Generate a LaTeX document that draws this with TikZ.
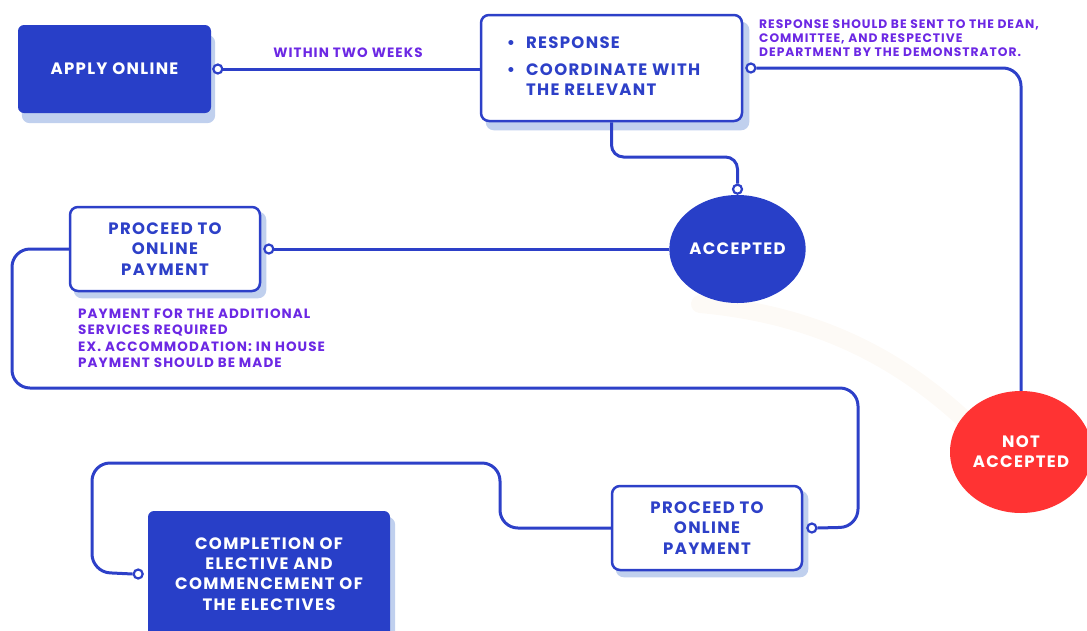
\documentclass[tikz,border=0pt]{standalone}
\usepackage{fontspec}
\setmainfont{Poppins}[LetterSpace=8]
\usetikzlibrary{shapes.geometric,backgrounds}

\definecolor{flowcolor0000}{RGB}{40,63,200}
\definecolor{flowcolor0001}{RGB}{45,64,200}
\definecolor{flowcolor0002}{RGB}{192,208,238}
\definecolor{flowcolor0003}{RGB}{108,40,228}
\definecolor{flowcolor0004}{RGB}{255,51,51}
\definecolor{flowcolor0005}{RGB}{253,250,246}

\begin{document}
\begin{tikzpicture}[yscale=-1
                ,fstyle1/.style={fill=flowcolor0000,rounded corners=6pt,text=white,font=\bfseries\fontsize{16.5}{20.3}\selectfont,align=center,inner sep=0pt}
                ,fstyle2/.style={draw=flowcolor0001,fill=white,line width=2.5pt,rounded corners=8pt,text=flowcolor0001,font=\bfseries\fontsize{16.5}{20.5}\selectfont,align=center,inner sep=0pt}
                ,fstyle3/.style={fill=flowcolor0002,rounded corners=8pt}
                ,fstyle4/.style={color=flowcolor0001,line width=3pt,rounded corners=18pt}
                ,fstyle5/.style={circle,draw=flowcolor0001,fill=white,line width=2.2pt,minimum size=9pt,inner sep=0pt}
                ,fstyle6/.style={ellipse,inner sep=0pt,text=white,font=\bfseries\fontsize{16.5}{20}\selectfont,align=center}
                ,fstyle7/.style={text=flowcolor0003,font=\bfseries\fontsize{13.5}{16.5}\selectfont,align=left,inner sep=0pt}
            ]
            \useasboundingbox (0pt,0pt) rectangle (1087pt,630pt);
            % boxes
            \node[fstyle1,minimum width=193pt,minimum height=88pt] (apply) at (114.5pt,69pt) {APPLY ONLINE};
            \node[fstyle2,minimum width=261pt,minimum height=106pt] (response) at (611.5pt,68pt)
                {\begin{tabular}{@{}l@{\hspace{11pt}}l@{\hspace{16pt}}}\textbullet&RESPONSE\\[6pt]\textbullet&COORDINATE WITH\\&THE RELEVANT\end{tabular}};
            \node[fstyle2,minimum width=190pt,minimum height=84pt] (pay1) at (165pt,249pt) {PROCEED TO\\ONLINE\\PAYMENT};
            \node[fstyle2,minimum width=190pt,minimum height=84pt] (pay2) at (707pt,528pt) {PROCEED TO\\ONLINE\\PAYMENT};
            \node[fstyle1,minimum width=242pt,minimum height=126pt] (finish) at (269pt,574pt) {COMPLETION OF\\ELECTIVE AND\\COMMENCEMENT OF\\THE ELECTIVES};
            \node[fstyle6,fill=flowcolor0000,minimum width=129pt,minimum height=108pt] (accepted) at (737.5pt,249pt) {ACCEPTED};
            \node[fstyle6,fill=flowcolor0004,minimum width=142pt,minimum height=122pt] (rejected) at (1021pt,452pt) {NOT\\ACCEPTED};
            % shadows
            \begin{scope}[on background layer]
            \draw[color=flowcolor0005,line width=18pt,line cap=round] (700pt,304pt) .. controls (820pt,315pt) and (900pt,360pt) .. (965pt,420pt);
            \fill[fstyle3] ([shift={(4pt,10pt)}]apply.north west) rectangle ([shift={(4pt,10pt)}]apply.south east);
            \fill[fstyle3] ([shift={(6pt,8pt)}]response.north west) rectangle ([shift={(6pt,8pt)}]response.south east);
            \fill[fstyle3] ([shift={(5pt,6pt)}]pay1.north west) rectangle ([shift={(5pt,6pt)}]pay1.south east);
            \fill[fstyle3] ([shift={(5pt,6pt)}]pay2.north west) rectangle ([shift={(5pt,6pt)}]pay2.south east);
            \fill[fstyle3] ([shift={(5pt,6pt)}]finish.north west) rectangle ([shift={(5pt,6pt)}]finish.south east);
            \end{scope}
            % end dots
            \node[fstyle5,anchor=west] (applydot) at ([xshift=1pt]apply.east) {};
            \node[fstyle5,anchor=west] (responsedot) at ([xshift=2pt]response.east) {};
            \node[fstyle5,anchor=south] (accepteddot) at (accepted.north) {};
            \node[fstyle5,anchor=west] (pay1dot) at ([xshift=2pt]pay1.east) {};
            \node[fstyle5,anchor=west] (pay2dot) at ([xshift=3pt]pay2.east) {};
            \node[fstyle5,anchor=east] (finishdot) at ([xshift=-4pt]finish.west) {};
            % connectors
            \draw[fstyle4] (applydot.east) -- (applydot.east -| response.west);
            \draw[fstyle4] (responsedot.east) -| (rejected.north);
            \draw[fstyle4,rounded corners=12pt] (response.south) |- (737.5pt,157pt) -- (accepteddot.north);
            \draw[fstyle4] (accepted.west) -- (pay1dot.east);
            \draw[fstyle4] (pay1.west) -| (12pt,388pt) -| (858pt,527pt) -- (pay2dot.east);
            \draw[fstyle4] (pay2.west) -| (500pt,463pt) -| (92pt,572pt) -- (finishdot.west);
            % notes
            \node[fstyle7] (within) at (348pt,53pt) {WITHIN TWO WEEKS};
            \node[fstyle7,anchor=west,font=\bfseries\fontsize{12.3}{14}\selectfont] (sendnote) at (759pt,38pt) {RESPONSE SHOULD BE SENT TO THE DEAN,\\COMMITTEE, AND RESPECTIVE\\DEPARTMENT BY THE DEMONSTRATOR.};
            \node[fstyle7,anchor=west] (paynote) at (78pt,338pt) {PAYMENT FOR THE ADDITIONAL\\SERVICES REQUIRED\\EX. ACCOMMODATION: IN HOUSE\\PAYMENT SHOULD BE MADE};
        \end{tikzpicture}
\end{document}
